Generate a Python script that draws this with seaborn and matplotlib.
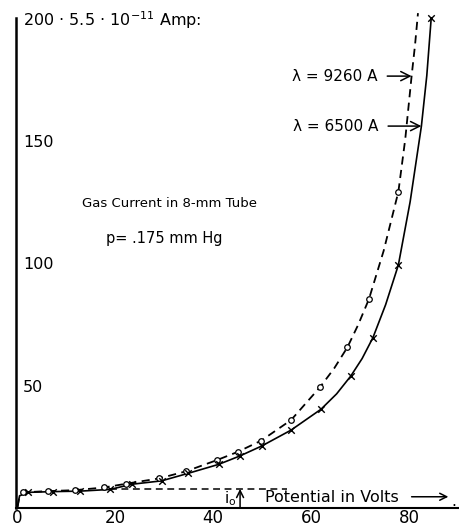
import matplotlib
matplotlib.use("Agg")
import matplotlib.pyplot as plt
import seaborn as sns
import pandas as pd

# --- data ---
# lambda = 6500 A (solid line, crosses)
x6500_pts = [2.3, 7.3, 12.9, 19.0, 23.4, 29.5, 34.8, 41.1, 45.4, 49.9, 55.9, 62.0, 68.1, 72.6, 77.8, 84.5]
y6500_pts = [6.4, 6.7, 6.9, 7.6, 9.7, 11.1, 14.1, 17.8, 21.2, 25.3, 31.8, 40.3, 53.9, 69.5, 99.2, 200.0]
# extra points (start and steep top part)
x6500_curve_extra = [0.1, 0.5, 65.2, 70.4, 75.2, 80.2, 82.5, 83.6]
y6500_curve_extra = [0.5, 5.0, 46.6, 61.0, 83.0, 125.0, 155.9, 176.5]

# lambda = 9260 A (dashed line, circles)
x9260_pts = [1.2, 6.3, 11.9, 17.8, 22.2, 29.0, 34.5, 40.7, 45.0, 49.8, 55.9, 61.8, 67.4, 71.8, 77.8]
y9260_pts = [6.4, 6.9, 7.3, 8.4, 9.9, 12.1, 15.0, 19.5, 22.9, 27.5, 35.9, 49.3, 65.6, 85.3, 129.1]
x9260_curve_extra = [0.1, 0.5, 64.7, 69.6, 74.8, 79.2, 80.5, 81.2, 81.8]
y9260_curve_extra = [0.5, 5.0, 57.0, 74.8, 105.0, 150.5, 176.3, 189.0, 202.0]

i0_level = 7.8
i0_x = 45.5
i0_span = [19.0, 55.0]

x_ticks = [0, 10, 20, 30, 40, 50, 60, 70, 80, 90]
x_ticklabels = ["0", "", "20", "", "40", "", "60", "", "80", ""]
y_ticks = [50, 100, 150, 200]
y_ticklabels = ["50", "100", "150", "200 · 5.5 · 10$^{-11}$ Amp:"]

title1 = "Gas Current in 8-mm Tube"
title2 = "p= .175 mm Hg"
label_9260 = "λ = 9260 A"
label_6500 = "λ = 6500 A"
xlabel_txt = "Potential in Volts"

# --- build tables ---
pts6500 = pd.DataFrame({"V": x6500_pts, "I": y6500_pts})
pts9260 = pd.DataFrame({"V": x9260_pts, "I": y9260_pts})
curve6500 = pd.DataFrame({"V": x6500_pts + x6500_curve_extra,
                          "I": y6500_pts + y6500_curve_extra}).sort_values("V")
curve9260 = pd.DataFrame({"V": x9260_pts + x9260_curve_extra,
                          "I": y9260_pts + y9260_curve_extra}).sort_values("V")

sns.set_style("white")
plt.rcParams["font.family"] = ["DejaVu Sans"]
for key in ["text.color", "axes.labelcolor", "xtick.color", "ytick.color", "axes.edgecolor"]:
    plt.rcParams[key] = "black"

fig = plt.figure(figsize=(4.6, 5.27), dpi=100)
ax = fig.add_axes([0.035, 0.036, 0.961, 0.953])

sns.lineplot(data=curve6500, x="V", y="I", ax=ax, color="black", lw=1.2,
             sort=False, estimator=None, clip_on=False)
sns.lineplot(data=curve9260, x="V", y="I", ax=ax, color="black", lw=1.3,
             linestyle=(0, (4.5, 3.0)), sort=False, estimator=None, clip_on=False)
sns.scatterplot(data=pts9260, x="V", y="I", ax=ax, marker="o", s=16,
                facecolor="white", edgecolor="black", linewidth=0.9, zorder=5, clip_on=False)
sns.scatterplot(data=pts6500, x="V", y="I", ax=ax, marker="x", s=22,
                color="black", linewidth=1.0, zorder=5, clip_on=False)

# i0 level
ax.hlines(i0_level, i0_span[0], i0_span[1], colors="black", lw=1.1,
          linestyles=(0, (4.5, 3.0)))
ax.annotate("", xy=(i0_x, i0_level), xytext=(i0_x, 0),
            arrowprops=dict(arrowstyle="->,head_length=0.5,head_width=0.25",
                            lw=1.1, color="black", shrinkA=0, shrinkB=0))
ax.text(i0_x - 0.8, 4.0, r"i$_\mathrm{o}$", ha="right", va="center", fontsize=11,
        color="black")

ax.text(50.5, 4.3, xlabel_txt, ha="left", va="center", fontsize=11.5, color="black")
ax.annotate("", xy=(88.0, 4.6), xytext=(80.5, 4.6),
            arrowprops=dict(arrowstyle="->,head_length=0.5,head_width=0.25",
                            lw=1.1, color="black", shrinkA=0, shrinkB=0))
ax.text(88.6, 2.5, ".", ha="left", va="center", fontsize=11, color="black")

ax.text(31.0, 124.5, title1, ha="center", va="center", fontsize=9.5, color="black")
ax.text(30.0, 110.0, title2, ha="center", va="center", fontsize=10.5, color="black")

arrow_style = "->,head_length=0.6,head_width=0.3"
ax.annotate(label_9260, xy=(80.5, 176.3), xytext=(56.0, 176.3),
            ha="left", va="center", fontsize=11, color="black",
            arrowprops=dict(arrowstyle=arrow_style, lw=1.1, color="black",
                            relpos=(1, 0.5), shrinkA=5, shrinkB=0))
ax.annotate(label_6500, xy=(82.5, 155.9), xytext=(56.2, 155.9),
            ha="left", va="center", fontsize=11, color="black",
            arrowprops=dict(arrowstyle=arrow_style, lw=1.1, color="black",
                            relpos=(1, 0.5), shrinkA=5, shrinkB=0))

# axes styling
ax.set_xlim(-0.2, 90)
ax.set_ylim(0, 205)
ax.spines["top"].set_visible(False)
ax.spines["right"].set_visible(False)
ax.spines["left"].set_bounds(0, 200)
ax.spines["left"].set_linewidth(1.8)
ax.spines["bottom"].set_linewidth(1.5)
ax.spines["bottom"].set_bounds(-0.2, 90)
ax.spines["left"].set_color("black")
ax.spines["bottom"].set_color("black")

ax.set_xticks(x_ticks)
ax.set_xticklabels(x_ticklabels, fontsize=12)
ax.set_yticks(y_ticks)
ax.set_yticklabels(y_ticklabels, fontsize=11.5)
ax.tick_params(axis="x", direction="in", length=6, width=1.2, pad=1, colors="black")
ax.tick_params(axis="y", direction="in", length=6, width=1.2, pad=-5, colors="black")
plt.setp(ax.get_yticklabels(), ha="left")
ax.set_xlabel("")
ax.set_ylabel("")

fig.savefig("out.png", dpi=100)
